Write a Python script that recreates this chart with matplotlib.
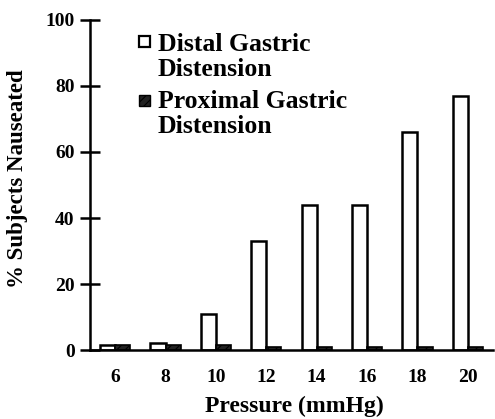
import numpy as np
import matplotlib
matplotlib.use('Agg')
import matplotlib.pyplot as plt
from matplotlib.patches import Rectangle

# data
pressure = ['6', '8', '10', '12', '14', '16', '18', '20']
distal = [1.5, 2, 11, 33, 44, 44, 66, 77]
proximal = [1.5, 1.5, 1.5, 1, 1, 1, 1, 1]
legend_labels = ['Distal Gastric\nDistension', 'Proximal Gastric\nDistension']

plt.rcParams['font.family'] = ['Liberation Serif', 'DejaVu Serif']
plt.rcParams['font.weight'] = 'bold'
plt.rcParams['hatch.linewidth'] = 0.8

W, H = 495, 419
fig = plt.figure(figsize=(W / 100, H / 100), dpi=100)
ax = fig.add_axes([90 / W, 1 - 350 / H, 403 / W, 330 / H])

x = np.arange(len(pressure))
w = 0.3
ax.bar(x - w / 2, distal, w, facecolor='white', edgecolor='black', linewidth=1.8)
ax.bar(x + w / 2, proximal, w, facecolor='#222222', edgecolor='black',
       linewidth=1.2, hatch='////')

ax.set_xlim(-0.5, 7.5)
ax.set_ylim(0, 100)
ax.set_xticks(x)
ax.set_xticklabels(pressure)
ax.set_yticks(np.arange(0, 101, 20))

for s in ['top', 'right']:
    ax.spines[s].set_visible(False)
ax.spines['left'].set_linewidth(1.8)
ax.spines['bottom'].set_linewidth(1.8)
ax.tick_params(axis='y', direction='inout', length=14, width=1.8, labelsize=14, pad=4)
ax.tick_params(axis='x', length=0, labelsize=14, pad=14)

ax.set_xlabel('Pressure (mmHg)', fontsize=17, fontweight='bold', labelpad=8)
ax.xaxis.set_label_coords(0.506, -0.14)
ax.set_ylabel('% Subjects Nauseated', fontsize=16.5, fontweight='bold')
ax.yaxis.set_label_coords(-0.155, 0.52)

# legend drawn by hand: box beside first line of each two-line label
box = 11
entries = [(57, 42, dict(facecolor='white', edgecolor='black', linewidth=1.6)),
           (114, 101, dict(facecolor='#222222', edgecolor='black', hatch='////'))]
for lab, (ty, by, style) in zip(legend_labels, entries):
    fig.patches.append(Rectangle((139 / W, 1 - (by + box / 2) / H), box / W, box / H,
                                 transform=fig.transFigure, **style))
    fig.text(158 / W, 1 - ty / H, lab, fontsize=18.5, fontweight='bold',
             ha='left', va='center', linespacing=1.15)

fig.savefig('out.png', dpi=100)
